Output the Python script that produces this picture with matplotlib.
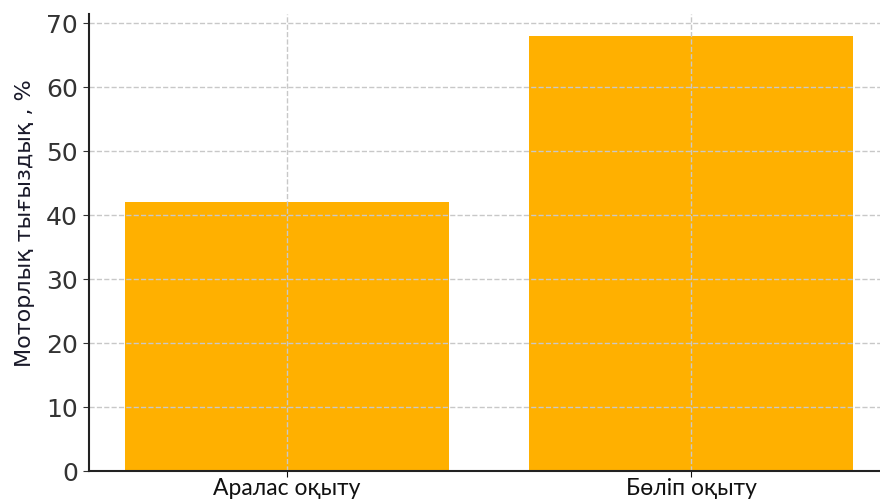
import matplotlib.pyplot as plt

categories = ['Аралас оқыту', 'Бөліп оқыту']
values = [42, 68]
y_ticks = [0, 10, 20, 30, 40, 50, 60, 70]

plt.rcParams['font.family'] = ['DejaVu Sans']

fig = plt.figure(figsize=(8.8, 5.02), dpi=100)
# axes extends a bit past the right edge, the reference is cropped there
ax = fig.add_axes([89 / 880, 30 / 502, 800 / 880, 457 / 502])

ax.bar(categories, values, width=0.8, color='#FFB000')
ax.set_xlim(-0.49, 1.49)
ax.set_ylim(0, 71.4)
ax.set_yticks(y_ticks)
ax.grid(True, linestyle='--', color='#c8c8c8', linewidth=1)

for side in ['top', 'right']:
    ax.spines[side].set_visible(False)
for side in ['left', 'bottom']:
    ax.spines[side].set_color('#222222')
    ax.spines[side].set_linewidth(1.5)

ax.tick_params(axis='y', labelsize=18, colors='#333333', length=4, pad=4)
ax.tick_params(axis='x', labelsize=16.5, colors='#111111', length=4, pad=0.5)
for lbl in ax.get_xticklabels():
    lbl.set_family('Lato')

ax.set_ylabel('Моторлық тығыздық , %', fontsize=16, color='#1a1a2a')
ax.yaxis.set_label_coords(-0.067, 0.545)

fig.savefig('out.png', dpi=100)
